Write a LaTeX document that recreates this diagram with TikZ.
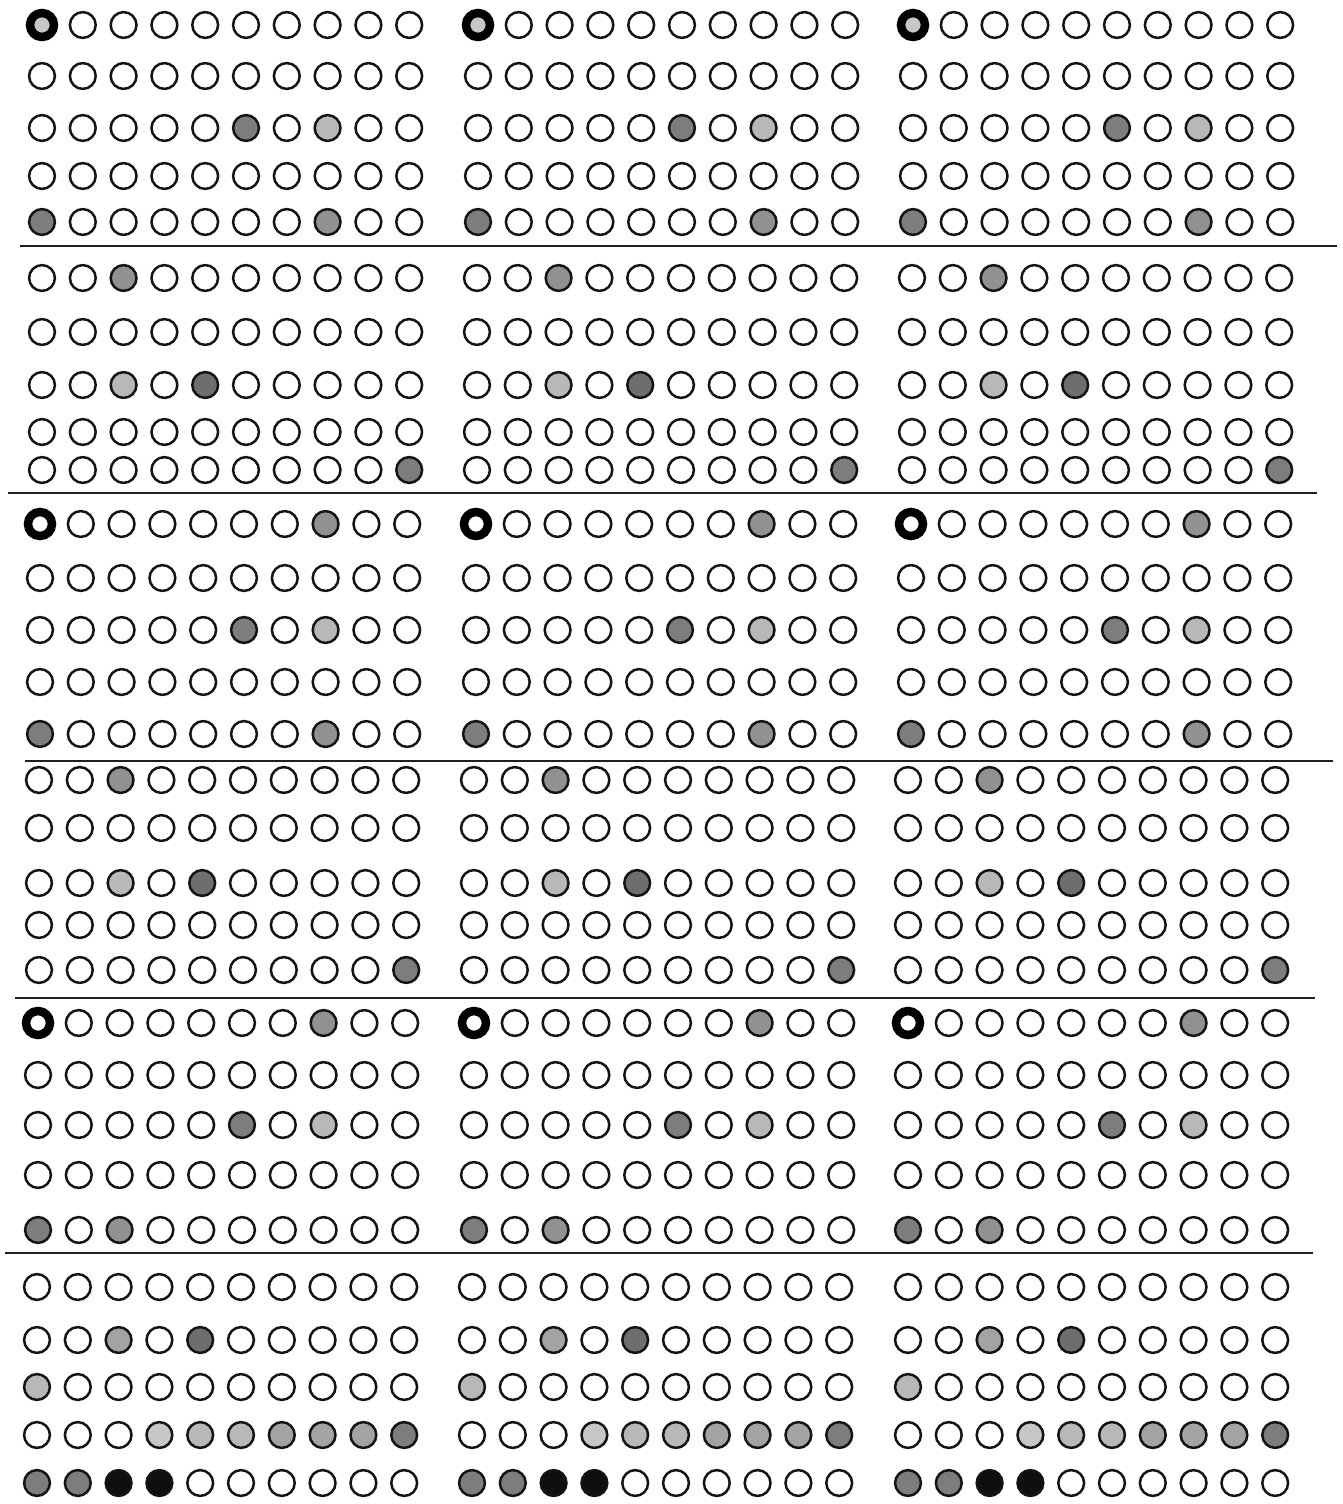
\documentclass[tikz,border=0pt]{standalone}
\definecolor{ga}{gray}{0.78}
\definecolor{gb}{gray}{0.72}
\definecolor{gc}{gray}{0.64}
\definecolor{gd}{gray}{0.57}
\definecolor{ge}{gray}{0.49}
\definecolor{gf}{gray}{0.43}
\definecolor{bk}{gray}{0.06}
\begin{document}
\begin{tikzpicture}[x=1pt,y=-1pt,
  dot/.style={circle,draw=black!92,line width=2.5pt,minimum size=25.8pt,inner sep=0pt,fill=white},
  ring/.style={draw=black,line width=8.5pt,minimum size=24pt},
  sep/.style={draw=black!88,line width=2.6pt},
  % band 1
  f-1-1-1/.style={ring,fill=ga},
  f-1-3-6/.style={fill=ge}, f-1-3-8/.style={fill=gb},
  f-1-5-1/.style={fill=ge}, f-1-5-8/.style={fill=gd},
  % band 2
  f-2-1-3/.style={fill=gd},
  f-2-3-3/.style={fill=gb}, f-2-3-5/.style={fill=gf},
  f-2-5-10/.style={fill=ge},
  % band 3
  f-3-1-1/.style={ring,fill=white}, f-3-1-8/.style={fill=gd},
  f-3-3-6/.style={fill=ge}, f-3-3-8/.style={fill=gb},
  f-3-5-1/.style={fill=ge}, f-3-5-8/.style={fill=gd},
  % band 4
  f-4-1-3/.style={fill=gd},
  f-4-3-3/.style={fill=gb}, f-4-3-5/.style={fill=gf},
  f-4-5-10/.style={fill=ge},
  % band 5
  f-5-1-1/.style={ring,fill=white}, f-5-1-8/.style={fill=gd},
  f-5-3-6/.style={fill=ge}, f-5-3-8/.style={fill=gb},
  f-5-5-1/.style={fill=ge}, f-5-5-3/.style={fill=gd},
  % band 6
  f-6-2-3/.style={fill=gc}, f-6-2-5/.style={fill=gf},
  f-6-3-1/.style={fill=gb},
  f-6-4-4/.style={fill=ga}, f-6-4-5/.style={fill=gb}, f-6-4-6/.style={fill=gb},
  f-6-4-7/.style={fill=gc}, f-6-4-8/.style={fill=gc}, f-6-4-9/.style={fill=gc},
  f-6-4-10/.style={fill=ge},
  f-6-5-1/.style={fill=ge}, f-6-5-2/.style={fill=ge},
  f-6-5-3/.style={fill=bk}, f-6-5-4/.style={fill=bk},
]
\fill[white] (0,0) rectangle (1342,1504);
\useasboundingbox (0,0) rectangle (1342,1504);

\foreach \b/\yA/\yB/\yC/\yD/\yE/\xA/\xB/\xC in {
  1/25/76/128/176/222/42/478/913,
  2/278/332/385/432/470/42/477/912,
  3/524/578/630/682/734/40/476/911,
  4/780/828/883/925/970/39/474/908,
  5/1023/1075/1125/1175/1230/38/474/908,
  6/1287/1340/1387/1435/1483/37/472/908}{
  \foreach \k/\xo in {1/\xA,2/\xB,3/\xC}{
    \foreach \r/\yy in {1/\yA,2/\yB,3/\yC,4/\yD,5/\yE}{
      \foreach \c in {1,...,10}{
        \node[dot,f-\b-\r-\c/.try] (d-\b-\k-\r-\c) at ({\xo+40.8*(\c-1)},\yy) {};
      }
    }
  }
}

% separator lines between bands
\coordinate (s1a) at (20,246);   \coordinate (s1b) at (1337,246);
\coordinate (s2a) at (8,493);    \coordinate (s2b) at (1317,493);
\coordinate (s3a) at (25,761);   \coordinate (s3b) at (1333,761);
\coordinate (s4a) at (15,998);   \coordinate (s4b) at (1315,998);
\coordinate (s5a) at (5,1253);   \coordinate (s5b) at (1313,1253);
\foreach \i in {1,...,5}{\draw[sep] (s\i a) -- (s\i b);}
\end{tikzpicture}
\end{document}
